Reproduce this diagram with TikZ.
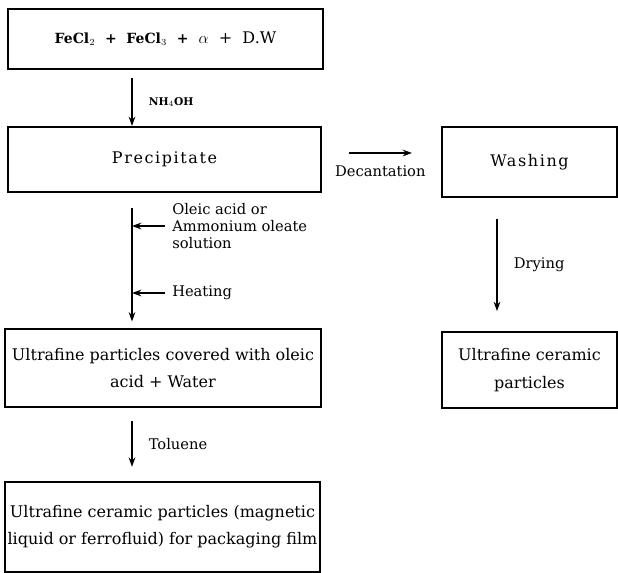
\documentclass[tikz,border=0pt]{standalone}
\usepackage{fontspec}
\setmainfont{DejaVu Serif}
\usetikzlibrary{arrows.meta,positioning}
\tikzset{
  stagebox/.style={draw,line width=1.3pt,align=center,inner sep=2pt,
    font=\fontsize{12}{20.5}\selectfont},
  spaced/.style={font=\fontsize{12}{20.5}\selectfont\addfontfeatures{LetterSpace=10}},
  agent/.style={anchor=west,inner sep=0pt,align=left,
    font=\fontsize{11}{12.5}\selectfont},
  flow/.style={-{Stealth[length=7pt,width=5pt]},line width=1.2pt}
}

\begin{document}
\begin{tikzpicture}[x=0.75pt,y=-0.75pt]
  \useasboundingbox (0,0) rectangle (618,573);
  \coordinate (lx) at (132,0);
  \coordinate (rx) at (497,0);
  \coordinate (dec) at (0,153);
  % main line
  \node[stagebox,minimum width=236pt,minimum height=45pt] (mix) at (165.5,39)
    {{\fontsize{10.5}{11}\selectfont\bfseries FeCl$_2$ \ + \ FeCl$_3$ \ +} \ $\alpha$ \ + \ D.W};
  \node[stagebox,spaced,minimum width=235pt,minimum height=49pt] (precip) at (164.5,159.5) {Precipitate};
  \node[stagebox,minimum width=237pt,minimum height=58.5pt] (covered) at (163,368)
    {Ultrafine particles covered with oleic\\acid + Water};
  \node[stagebox,minimum width=236pt,minimum height=68pt] (ferro) at (162.5,527)
    {Ultrafine ceramic particles (magnetic\\liquid or ferrofluid) for packaging film};
  % side line
  \node[stagebox,spaced,minimum width=131pt,minimum height=52.5pt] (wash) at (529.5,162) {Washing};
  \node[stagebox,minimum width=131pt,minimum height=57pt] (ceramic) at (529.5,370)
    {Ultrafine ceramic\\particles};
  % additives
  \node[agent] (oleic) at (172,226) {Oleic acid or\\Ammonium oleate\\solution};
  \node[agent] (heat) at (172,293) {Heating};

  \draw[flow] ([yshift=-6pt]mix.south -| lx) -- (precip.north -| lx)
    node[agent,midway,xshift=12pt,font=\fontsize{8}{9}\selectfont\bfseries] {NH$_4$OH};
  \draw[flow] ([yshift=-11pt]precip.south -| lx) -- ([yshift=5pt]covered.north -| lx);
  \draw[flow] ([xshift=-5pt]oleic.west) -- (oleic.west -| lx);
  \draw[flow] ([xshift=-5pt]heat.west) -- (heat.west -| lx);
  \draw[flow] ([yshift=-10pt]covered.south -| lx) -- ([yshift=10.5pt]ferro.north -| lx)
    node[agent,midway,xshift=12pt] {Toluene};
  \draw[flow] ([xshift=20pt]precip.east |- dec) -- ([xshift=-22pt]wash.west |- dec)
    node[midway,below=9pt,inner sep=0pt,font=\fontsize{11}{12.5}\selectfont] {Decantation};
  \draw[flow] ([yshift=-15.75pt]wash.south -| rx) -- ([yshift=15pt]ceramic.north -| rx)
    node[agent,midway,xshift=12pt] {Drying};
\end{tikzpicture}
\end{document}
